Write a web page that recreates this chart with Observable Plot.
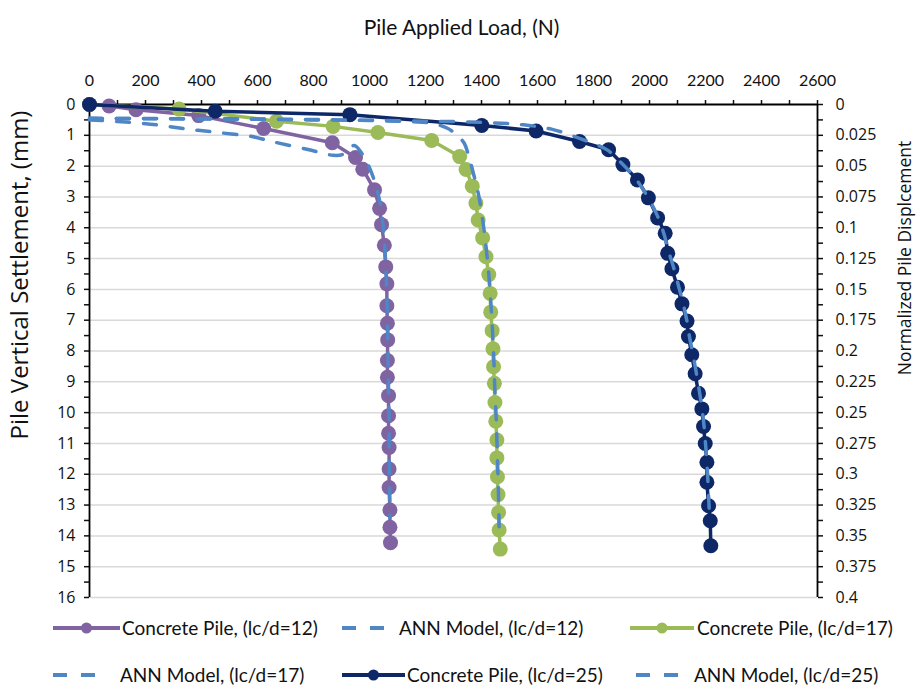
<!DOCTYPE html>
<html>
<head>
<meta charset="utf-8">
<script src="https://cdn.jsdelivr.net/npm/d3@7"></script>
<script src="https://cdn.jsdelivr.net/npm/@observablehq/plot@0.6"></script>
<style>
  body { margin: 0; background: #fff; }
  #chart { position: relative; width: 919px; height: 695px; overflow: hidden; background: #fff; }
  #chart > svg { display: block; }
  .leg { position: absolute; display: flex; align-items: center; white-space: nowrap;
         font-family: Lato, "Open Sans", sans-serif; font-size: 19px; color: #111; }
  .leg svg { display: block; }
  .side { position: absolute; white-space: nowrap; font-family: "Open Sans", sans-serif; color: #111;
          transform: translate(-50%, -50%) rotate(-90deg); line-height: 1; }
</style>
</head>
<body>
<div id="chart"></div>
<script>
// Load (N) and settlement (mm) for the measured concrete piles
const pile12Load = [0, 70, 166, 390, 622, 867, 950, 976, 1018, 1036, 1043, 1053, 1058, 1062, 1062, 1064, 1065, 1064, 1064, 1068, 1068, 1068, 1070, 1070, 1070, 1073, 1073, 1075];
const pile12Settle = [0, 0.05, 0.17, 0.36, 0.78, 1.24, 1.72, 2.1, 2.77, 3.37, 3.9, 4.57, 5.27, 5.82, 6.53, 7.1, 7.64, 8.31, 8.85, 9.45, 10.1, 10.67, 11.13, 11.83, 12.43, 13.16, 13.72, 14.22];

const pile17Load = [0, 320, 668, 870, 1030, 1222, 1322, 1345, 1367, 1380, 1388, 1404, 1416, 1426, 1431, 1433, 1438, 1441, 1443, 1446, 1448, 1451, 1455, 1455, 1457, 1459, 1461, 1463, 1467];
const pile17Settle = [0, 0.15, 0.54, 0.71, 0.91, 1.17, 1.69, 2.11, 2.65, 3.2, 3.75, 4.33, 4.94, 5.52, 6.13, 6.74, 7.34, 7.93, 8.51, 9.05, 9.67, 10.28, 10.89, 11.47, 12.08, 12.66, 13.24, 13.81, 14.43];

const pile25Load = [0, 449, 930, 1401, 1595, 1750, 1854, 1905, 1957, 1996, 2029, 2056, 2065, 2080, 2100, 2116, 2134, 2139, 2151, 2163, 2175, 2187, 2193, 2199, 2205, 2205, 2211, 2217, 2219];
const pile25Settle = [0, 0.22, 0.33, 0.68, 0.86, 1.2, 1.47, 1.95, 2.45, 3.03, 3.68, 4.18, 4.83, 5.33, 5.93, 6.47, 7.03, 7.53, 8.12, 8.74, 9.37, 9.88, 10.45, 11.0, 11.61, 12.26, 13.02, 13.51, 14.32];

// ANN model predictions
const ann12Load = [0, 100, 240, 350, 460, 580, 660, 780, 870, 905, 945, 975, 1000, 1020, 1038, 1047, 1053, 1057, 1060, 1062, 1064, 1065, 1066, 1067, 1068, 1069, 1070, 1070, 1071, 1072, 1073];
const ann12Settle = [0.5, 0.55, 0.66, 0.8, 0.91, 1.04, 1.22, 1.46, 1.65, 1.62, 1.33, 1.62, 2.05, 2.55, 3.2, 3.8, 4.4, 5.0, 5.6, 6.2, 6.8, 7.4, 8.0, 8.6, 9.2, 9.8, 10.4, 11.0, 11.8, 12.6, 13.4];

const ann17Load = [0, 200, 400, 600, 800, 1000, 1150, 1230, 1280, 1310, 1338, 1355, 1370, 1384, 1395, 1405, 1413, 1420, 1426, 1431, 1435, 1439, 1442, 1445, 1447, 1450, 1453, 1455, 1457, 1459, 1461, 1463];
const ann17Settle = [0.45, 0.46, 0.47, 0.48, 0.5, 0.52, 0.56, 0.62, 0.78, 0.98, 1.25, 1.7, 2.2, 2.7, 3.2, 3.8, 4.35, 4.95, 5.5, 6.1, 6.7, 7.3, 7.9, 8.5, 9.1, 9.7, 10.3, 10.9, 11.5, 12.1, 12.8, 13.7];

const ann25Load = [0, 300, 600, 900, 1200, 1400, 1550, 1650, 1720, 1780, 1850, 1900, 1950, 1990, 2025, 2050, 2068, 2088, 2104, 2120, 2133, 2143, 2155, 2167, 2178, 2188, 2195, 2200, 2205, 2209, 2213];
const ann25Settle = [0.45, 0.46, 0.47, 0.5, 0.54, 0.58, 0.66, 0.8, 1.0, 1.2, 1.48, 1.9, 2.4, 2.95, 3.55, 4.15, 4.75, 5.35, 5.9, 6.45, 7.0, 7.55, 8.1, 8.7, 9.3, 9.9, 10.45, 11.0, 11.6, 12.3, 13.1];

// Axis ticks and labels
const loadTicks = [0, 200, 400, 600, 800, 1000, 1200, 1400, 1600, 1800, 2000, 2200, 2400, 2600];
const settleTicks = [0, 1, 2, 3, 4, 5, 6, 7, 8, 9, 10, 11, 12, 13, 14, 15, 16];
const normLabels = ["0", "0.025", "0.05", "0.075", "0.1", "0.125", "0.15", "0.175", "0.2", "0.225", "0.25", "0.275", "0.3", "0.325", "0.35", "0.375", "0.4"];

const series = [
  {name: "Concrete Pile, (lc/d=12)", load: pile12Load, settle: pile12Settle, color: "#8064A2", ann: false},
  {name: "ANN Model, (lc/d=12)", load: ann12Load, settle: ann12Settle, color: "#4F86C6", ann: true},
  {name: "Concrete Pile, (lc/d=17)", load: pile17Load, settle: pile17Settle, color: "#9BBB59", ann: false},
  {name: "ANN Model, (lc/d=17)", load: ann17Load, settle: ann17Settle, color: "#4F86C6", ann: true},
  {name: "Concrete Pile, (lc/d=25)", load: pile25Load, settle: pile25Settle, color: "#0E2766", ann: false},
  {name: "ANN Model, (lc/d=25)", load: ann25Load, settle: ann25Settle, color: "#4F86C6", ann: true}
];

const rows = s => s.load.map((x, i) => ({x, y: s.settle[i]}));

const sideFont = '"Open Sans", sans-serif';
const topFont = 'Lato, "Open Sans", sans-serif';

const seriesMarks = series.flatMap(s => s.ann
  ? [Plot.line(rows(s), {x: "x", y: "y", stroke: s.color, strokeWidth: 3.5, strokeDasharray: "13,14", curve: "catmull-rom"})]
  : [Plot.line(rows(s), {x: "x", y: "y", stroke: s.color, strokeWidth: 3.5}),
     Plot.dot(rows(s), {x: "x", y: "y", r: 7.5, fill: s.color, stroke: "none"})]
);

const chart = Plot.plot({
  width: 919,
  height: 610,
  marginTop: 104,
  marginBottom: 13,
  marginLeft: 89,
  marginRight: 102,
  style: {fontFamily: sideFont, fontSize: "16px", color: "#111", background: "#fff", overflow: "visible"},
  x: {domain: [0, 2600]},
  y: {domain: [0, 16], reverse: true},
  marks: [
    Plot.ruleY(settleTicks.slice(1), {stroke: "#d9d9d9", strokeWidth: 1.5}),
    // tick marks
    Plot.axisX(d3.range(0, 2601, 100), {anchor: "top", tickSize: 5, tickFormat: () => "", label: null, strokeWidth: 1.5}),
    Plot.axisX(loadTicks, {anchor: "top", tickSize: 0, tickPadding: 19, label: null, fontFamily: topFont, fontSize: 16,
      tickFormat: d => String(d)}),
    Plot.axisY(d3.range(0, 16.01, 0.5), {anchor: "left", tickSize: 5, tickFormat: () => "", label: null, strokeWidth: 1.5}),
    Plot.axisY(settleTicks, {anchor: "left", tickSize: 0, tickPadding: 14, label: null, fontSize: 16}),
    Plot.axisY(d3.range(0, 16.01, 0.5), {anchor: "right", tickSize: 5, tickFormat: () => "", label: null, strokeWidth: 1.5}),
    Plot.axisY(settleTicks, {anchor: "right", tickSize: 0, tickPadding: 18, label: null, fontSize: 16,
      tickFormat: d => normLabels[settleTicks.indexOf(d)]}),
    // axis lines
    Plot.ruleX([0, 2600], {stroke: "#000", strokeWidth: 1.8}),
    Plot.ruleY([0], {stroke: "#000", strokeWidth: 1.8}),
    ...seriesMarks,
    Plot.text(["Pile Applied Load, (N)"], {frameAnchor: "top", dx: 8, dy: -84, fontFamily: topFont, fontSize: 21, fill: "#111"})
  ]
});

const root = document.getElementById("chart");
root.appendChild(chart);

// Vertical axis titles on either side of the plot
[
  {text: "Pile Vertical Settlement, (mm)", cx: 19, cy: 275, size: 24},
  {text: "Normalized Pile Displcement", cx: 905, cy: 258, size: 17.5}
].forEach(t => {
  const el = document.createElement("div");
  el.className = "side";
  el.textContent = t.text;
  el.style.left = t.cx + "px";
  el.style.top = t.cy + "px";
  el.style.fontSize = t.size + "px";
  root.appendChild(el);
});

// Legend below the plot
const legendPos = [
  {left: 53, top: 628, w: 67, gap: 2}, {left: 342, top: 628, w: 42, gap: 15}, {left: 630, top: 628, w: 64, gap: 3},
  {left: 53, top: 675, w: 42, gap: 25}, {left: 342, top: 675, w: 63, gap: 2}, {left: 636, top: 675, w: 42, gap: 16}
];
series.forEach((s, i) => {
  const p = legendPos[i];
  const item = document.createElement("div");
  item.className = "leg";
  const sw = d3.create("svg").attr("width", p.w + p.gap).attr("height", 20);
  if (s.ann) {
    sw.append("line").attr("x1", 0).attr("x2", p.w).attr("y1", 10).attr("y2", 10)
      .attr("stroke", s.color).attr("stroke-width", 4).attr("stroke-dasharray", "14,14");
  } else {
    sw.append("line").attr("x1", 0).attr("x2", p.w).attr("y1", 10).attr("y2", 10)
      .attr("stroke", s.color).attr("stroke-width", 4);
    sw.append("circle").attr("cx", p.w / 2).attr("cy", 10).attr("r", 5.5).attr("fill", s.color);
  }
  item.appendChild(sw.node());
  const label = document.createElement("span");
  label.textContent = s.name;
  item.appendChild(label);
  item.style.left = p.left + "px";
  item.style.top = (p.top - 12) + "px";
  root.appendChild(item);
});
</script>
</body>
</html>
